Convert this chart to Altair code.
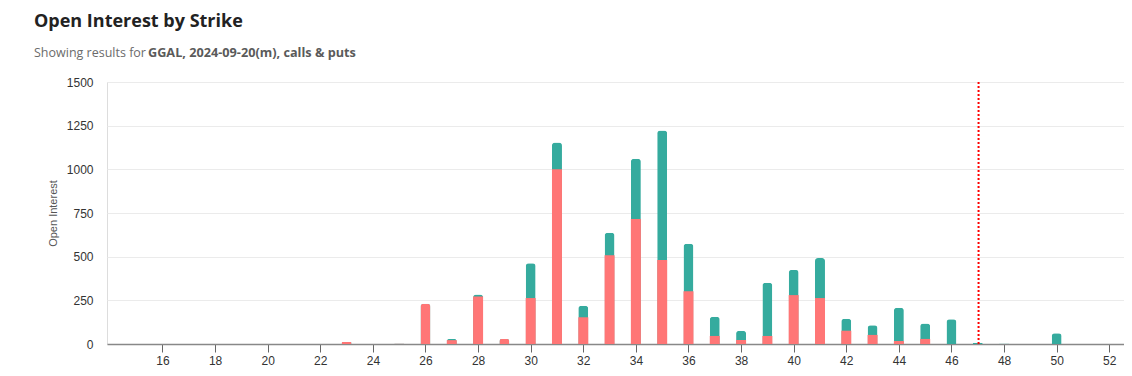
import altair as alt
import pandas as pd

strikes = [23, 25, 26, 27, 28, 29, 30, 31, 32, 33, 34, 35, 36, 37, 38, 39, 40, 41, 42, 43, 44, 45, 46, 47, 48, 50]
puts    = [12, 3, 230, 22, 272, 29, 263, 1001, 153, 508, 716, 481, 302, 46, 23, 46, 280, 263, 76, 52, 17, 29, 0, 0, 0, 0]
calls   = [0, 0, 0, 7, 12, 0, 200, 153, 66, 129, 345, 742, 272, 110, 53, 305, 144, 229, 69, 55, 191, 89, 141, 7, 3, 61]
x_ticks = list(range(16, 53, 2))
y_ticks = [0, 250, 500, 750, 1000, 1250, 1500]
spot_price = [47.03]

title_text = "Open Interest by Strike"
subtitle_plain = "Showing results for "
subtitle_bold = "GGAL, 2024-09-20(m), calls & puts"

RED = "#ff7676"
TEAL = "#35ab9e"

df = pd.DataFrame({"strike": strikes, "puts": puts, "calls": calls})
df["total"] = df["puts"] + df["calls"]

x_scale = alt.Scale(domain=[14.08, 52.37], nice=False, zero=False)
y_scale = alt.Scale(domain=[0, 1500], nice=False)

x_enc = alt.X(
    "strike:Q", scale=x_scale, title=None,
    axis=alt.Axis(values=x_ticks, grid=False, domainColor="#888", domainWidth=1.5,
                  tickColor="#666", tickSize=8, labelPadding=3, labelFontSize=12,
                  labelColor="#333", labelFont="Liberation Sans", labelFlush=False,
                  format="d"),
)

base = alt.Chart(df)

teal = base.mark_bar(size=10, color=TEAL, cornerRadiusTopLeft=3, cornerRadiusTopRight=3).encode(
    x=x_enc,
    y=alt.Y("total:Q", scale=y_scale, title="Open Interest",
            axis=alt.Axis(values=y_ticks, format="d", domain=False, ticks=False,
                          gridColor="#ebebeb",
                          labelPadding=14, labelFontSize=12, labelColor="#333",
                          labelFont="Liberation Sans", titleFont="Liberation Sans",
                          titleFontSize=11, titleFontWeight="normal", titleColor="#555",
                          titleX=-49, titleY=131)),
)

red_sq = base.transform_filter("datum.calls > 0 && datum.puts > 0").mark_bar(size=10, color=RED).encode(
    x=alt.X("strike:Q", scale=x_scale),
    y=alt.Y("puts:Q", scale=y_scale),
)
red_rd = base.transform_filter("datum.calls == 0 && datum.puts > 0").mark_bar(
    size=10, color=RED, cornerRadiusTopLeft=3, cornerRadiusTopRight=3).encode(
    x=alt.X("strike:Q", scale=x_scale),
    y=alt.Y("puts:Q", scale=y_scale),
)

spot = alt.Chart(pd.DataFrame({"spot": spot_price})).mark_rule(
    color="#ff0000", strokeWidth=2, strokeDash=[2, 2]).encode(
    x=alt.X("spot:Q", scale=x_scale),
)

tdf = pd.DataFrame({"a": [1]})
title = alt.Chart(tdf).mark_text(text=title_text, align="left", baseline="alphabetic",
                                 font="Open Sans", fontSize=18, fontWeight="bold",
                                 color="#222").encode(x=alt.value(-73), y=alt.value(-55))
sub1 = alt.Chart(tdf).mark_text(text=subtitle_plain, align="left", baseline="alphabetic",
                                font="Open Sans", fontSize=12.5, color="#6b6b6b").encode(
    x=alt.value(-73), y=alt.value(-25))
sub2 = alt.Chart(tdf).mark_text(text=subtitle_bold, align="left", baseline="alphabetic",
                                font="Open Sans", fontSize=12.7, fontWeight="bold",
                                color="#5a5a5a").encode(x=alt.value(41), y=alt.value(-25))

chart = alt.layer(teal, red_sq, red_rd, spot, title, sub1, sub2).properties(
    width=1017, height=262,
    autosize=alt.AutoSizeParams(type="none"),
    padding={"left": 99, "top": 74, "right": 0, "bottom": 24},
).configure_view(stroke=None).configure(background="white")

chart.save("out.html", embed_options={"renderer": "svg", "actions": False})
